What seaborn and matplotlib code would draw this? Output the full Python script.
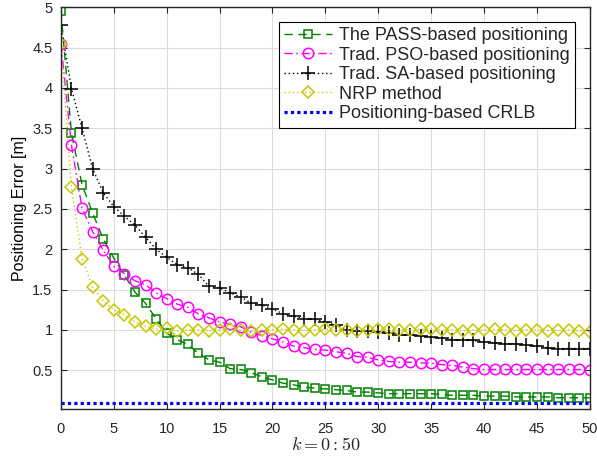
import matplotlib
matplotlib.use("Agg")
import matplotlib.pyplot as plt
import seaborn as sns
import pandas as pd

k = list(range(51))

pass_err = [4.96, 3.44, 2.80, 2.45, 2.13, 1.89, 1.68, 1.47, 1.33, 1.14,
            0.96, 0.88, 0.82, 0.71, 0.63, 0.60, 0.52, 0.51, 0.47, 0.42,
            0.38, 0.34, 0.32, 0.29, 0.28, 0.27, 0.26, 0.25, 0.23, 0.23,
            0.22, 0.21, 0.21, 0.21, 0.21, 0.21, 0.20, 0.19, 0.19, 0.19,
            0.18, 0.18, 0.18, 0.17, 0.17, 0.17, 0.17, 0.16, 0.16, 0.16, 0.16]

pso_err = [4.55, 3.29, 2.51, 2.22, 1.99, 1.79, 1.70, 1.61, 1.56, 1.46,
           1.39, 1.32, 1.28, 1.20, 1.15, 1.10, 1.07, 1.04, 0.97, 0.93,
           0.89, 0.85, 0.80, 0.78, 0.76, 0.75, 0.73, 0.71, 0.67, 0.66,
           0.63, 0.61, 0.60, 0.60, 0.59, 0.59, 0.57, 0.56, 0.54, 0.52,
           0.51, 0.51, 0.51, 0.51, 0.51, 0.51, 0.51, 0.51, 0.51, 0.51, 0.50]

sa_err = [4.78, 3.99, 3.50, 3.00, 2.70, 2.53, 2.41, 2.30, 2.15, 2.00,
          1.90, 1.81, 1.77, 1.69, 1.54, 1.52, 1.46, 1.41, 1.33, 1.31,
          1.26, 1.20, 1.17, 1.14, 1.13, 1.10, 1.06, 1.00, 0.99, 0.99,
          0.97, 0.96, 0.94, 0.94, 0.93, 0.91, 0.90, 0.88, 0.87, 0.87,
          0.85, 0.84, 0.83, 0.83, 0.81, 0.80, 0.78, 0.77, 0.77, 0.77, 0.77]

nrp_err = [4.55, 2.77, 1.88, 1.53, 1.36, 1.25, 1.19, 1.10, 1.05, 1.01,
           1.02, 0.99, 1.00, 1.00, 0.99, 1.00, 1.01, 1.00, 0.99, 1.00,
           1.00, 1.01, 1.00, 0.99, 1.00, 1.01, 1.00, 1.00, 0.99, 1.00,
           1.01, 1.01, 1.00, 1.00, 1.01, 1.01, 1.00, 1.00, 0.99, 1.00,
           1.00, 1.01, 1.00, 0.99, 1.00, 1.00, 0.99, 1.00, 1.00, 0.99, 0.98]

crlb = [0.10, 0.10, 0.10, 0.10, 0.10, 0.10, 0.10, 0.10, 0.10, 0.10,
        0.10, 0.10, 0.10, 0.10, 0.10, 0.10, 0.10, 0.10, 0.10, 0.10,
        0.10, 0.10, 0.10, 0.10, 0.10, 0.10, 0.10, 0.10, 0.10, 0.10,
        0.10, 0.10, 0.10, 0.10, 0.10, 0.10, 0.10, 0.10, 0.10, 0.10,
        0.10, 0.10, 0.10, 0.10, 0.10, 0.10, 0.10, 0.10, 0.10, 0.10, 0.10]

labels = ["The PASS-based positioning", "Trad. PSO-based positioning",
          "Trad. SA-based positioning", "NRP method", "Positioning-based CRLB"]

sns.set_theme(style="whitegrid")
plt.rcParams["font.family"] = ["Liberation Sans", "DejaVu Sans"]
plt.rcParams["mathtext.fontset"] = "cm"

fig = plt.figure(figsize=(5.97, 4.57), dpi=100)
ax = fig.add_axes([0.102, 0.105, 0.886, 0.879])

axis_col = "#262626"

styles = [
    dict(y=pass_err, color="#008000", linestyle=(0, (6, 4)), marker="s", ms=6.0, lw=1.0),
    dict(y=pso_err, color="#ff00ff", linestyle=(0, (6, 2.5, 1.2, 2.5)), marker="o", ms=7.5, lw=1.0),
    dict(y=sa_err, color="black", linestyle=(0, (1, 2)), marker="+", ms=10, lw=1.0),
    dict(y=nrp_err, color="#c8c800", linestyle=(0, (1, 2)), marker="D", ms=6.5, lw=1.0),
]

for st, lab in zip(styles, labels[:4]):
    df = pd.DataFrame({"k": k, "err": st["y"]})
    sns.lineplot(data=df, x="k", y="err", ax=ax, color=st["color"],
                 linestyle=st["linestyle"], marker=st["marker"],
                 markersize=st["ms"], markerfacecolor="none",
                 markeredgecolor=st["color"], markeredgewidth=1.1,
                 linewidth=st["lw"], label=lab, errorbar=None)

df = pd.DataFrame({"k": k, "err": crlb})
sns.lineplot(data=df, x="k", y="err", ax=ax, color="#0000ff",
             linestyle=(0, (1, 1)), linewidth=2.3, label=labels[4],
             errorbar=None, dash_capstyle="butt")

ax.set_xlim(0, 50)
ax.set_ylim(0.02, 5)
ax.set_xticks(range(0, 51, 5))
ax.set_yticks([0.5, 1, 1.5, 2, 2.5, 3, 3.5, 4, 4.5, 5])
ax.set_yticklabels(["0.5", "1", "1.5", "2", "2.5", "3", "3.5", "4", "4.5", "5"])

ax.set_facecolor("white")
ax.grid(True, color="#dcdcdc", linewidth=0.8)
for sp in ax.spines.values():
    sp.set_visible(True)
    sp.set_color(axis_col)
    sp.set_linewidth(1.0)

ax.tick_params(axis="both", which="both", direction="in", length=4,
               width=0.8, color=axis_col, labelcolor=axis_col,
               labelsize=10.5, top=True, right=True, bottom=True, left=True,
               pad=6)
ax.tick_params(axis="x", pad=9)

ax.set_xlabel(r"$k=0:50$", fontsize=13, color=axis_col, labelpad=1)
ax.set_ylabel("Positioning Error [m]", fontsize=11.5, color="black", labelpad=4)

leg = ax.legend(loc="upper right", bbox_to_anchor=(1.0, 1.0), fontsize=13,
                frameon=True, fancybox=False, edgecolor="black",
                framealpha=1, handlelength=2.65, borderpad=0.3,
                labelspacing=0.14, handletextpad=0.4, borderaxespad=0.8)
leg.get_frame().set_linewidth(0.8)

fig.savefig("out.png", dpi=100)
